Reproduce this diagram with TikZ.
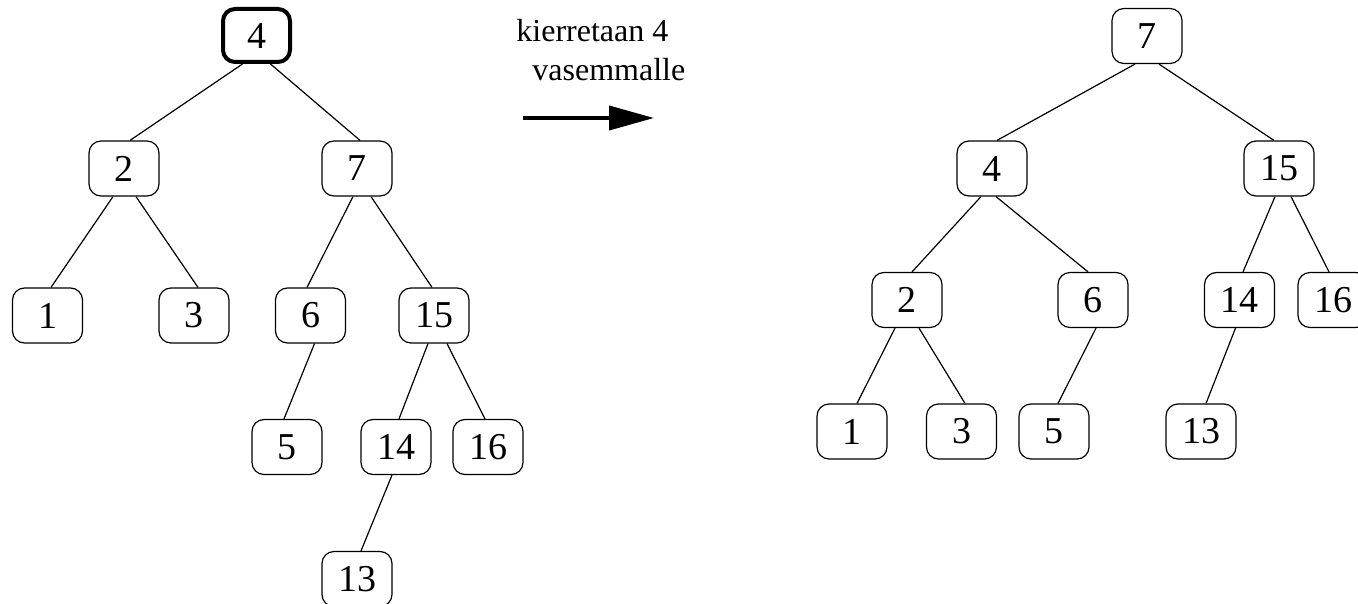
\documentclass[tikz,border=0pt]{standalone}
\usepackage{fontspec}
\setmainfont{Liberation Serif}
\usetikzlibrary{arrows.meta}

\begin{document}
\begin{tikzpicture}[
    x=0.5pt, y=-0.5pt,
    font=\fontsize{16}{19.5}\selectfont,
    key/.style={draw, line width=0.6pt, rounded corners=6pt, minimum width=35pt, minimum height=27.5pt, inner sep=0pt, font=\fontsize{19}{22}\selectfont},
    pivotkey/.style={key, line width=2pt, minimum width=33.5pt, minimum height=26.5pt},
    edge/.style={line width=0.6pt},
    arrow/.style={line width=2pt, -{Triangle[length=22.5pt, width=12pt]}},
    ]
    \useasboundingbox (0,0) rectangle (1358,604);
    % before the rotation
    \node[pivotkey] (a4) at (256.5,35.5) {4};
    \node[key] (a2) at (124,168.5) {2};
    \node[key] (a7) at (357,168.5) {7};
    \node[key] (a1) at (47.5,315.5) {1};
    \node[key] (a3) at (194,315.5) {3};
    \node[key] (a6) at (310.5,315.5) {6};
    \node[key] (a15) at (434,315.5) {15};
    \node[key] (a5) at (287,447) {5};
    \node[key] (a14) at (396,447) {14};
    \node[key] (a16) at (488,447) {16};
    \node[key] (a13) at (357,579) {13};
    % after the rotation
    \node[key] (b7) at (1147,36) {7};
    \node[key] (b4) at (992,168.5) {4};
    \node[key] (b15) at (1279,168.5) {15};
    \node[key] (b2) at (907,300) {2};
    \node[key] (b6) at (1093,300) {6};
    \node[key] (b14) at (1239.5,300) {14};
    \node[key] (b16) at (1333,300) {16};
    \node[key] (b1) at (852,431.5) {1};
    \node[key] (b3) at (961.5,431.5) {3};
    \node[key] (b5) at (1054,431.5) {5};
    \node[key] (b13) at (1201,431.5) {13};
    \foreach \prt/\pshift/\chd/\cshift in {
        a4/-7/a2/3, a4/7/a7/1.5, a2/-5.5/a1/1.75, a2/6/a3/2,
        a7/-2/a6/-1.75, a7/7/a15/-1, a6/2/a5/-1.5, a15/-3/a14/1.5,
        a15/6.5/a16/-1.5, a14/-2/a13/2,
        b7/-6/b4/2.5, b7/6/b15/-2.5, b4/-5.5/b2/2.5, b4/2/b6/-2.5,
        b15/-2/b14/1.75, b15/6/b16/-2, b2/-6/b1/2.5, b2/6/b3/1.75,
        b6/1.5/b5/2, b14/-2/b13/2.5}
        \draw[edge] ([xshift=\pshift pt]\prt.south) -- ([xshift=\cshift pt]\chd.north);
    % rotation label and arrow
    \node[anchor=north west, align=left, inner sep=0pt] (rotlabel) at (516,19)
    {kierretaan 4\\\hspace*{8pt}vasemmalle};
    \coordinate (arrowstart) at (523,118);
    \coordinate (arrowend) at (654,118);
    \draw[arrow] (arrowstart) -- (arrowend);
\end{tikzpicture}
\end{document}
